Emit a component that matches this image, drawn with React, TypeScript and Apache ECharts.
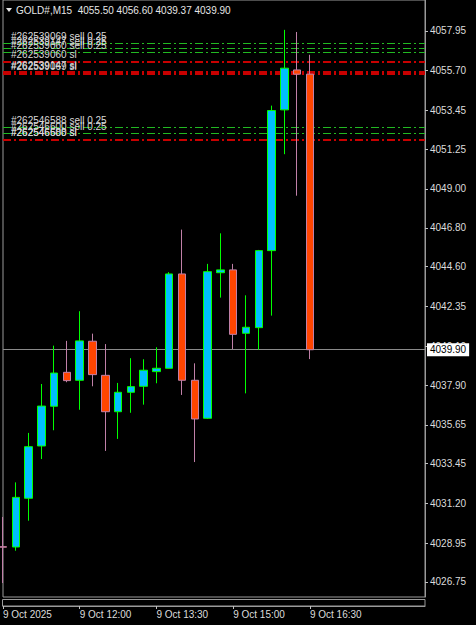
import React, { useEffect, useRef } from "react";
import * as echarts from "echarts";

const symbolName = "GOLD#,M15";
const categories = [
  "10:30", "10:45", "11:00", "11:15", "11:30", "11:45", "12:00", "12:15", "12:30", "12:45",
  "13:00", "13:15", "13:30", "13:45", "14:00", "14:15", "14:30", "14:45", "15:00", "15:15",
  "15:30", "15:45", "16:00", "16:15", "16:30", "16:45", "17:00", "17:15", "17:30", "17:45",
  "18:00", "18:15", "18:30", "18:45",
];
const candleOpen = [
  4028.75, 4028.73, 4031.49, 4034.45, 4036.7, 4038.62, 4038.17, 4040.38, 4038.45, 4036.39,
  4037.49, 4037.83, 4038.66, 4038.85, 4044.19, 4038.17, 4036.02, 4044.26, 4044.42, 4040.83,
  4041.15, 4045.51, 4053.48, 4055.74, 4055.5,
];
const candleClose = [
  4028.72, 4031.54, 4034.41, 4036.71, 4038.58, 4038.15, 4040.4, 4038.49, 4036.39, 4037.49,
  4037.81, 4038.74, 4038.85, 4044.19, 4038.17, 4035.98, 4044.32, 4044.42, 4040.77, 4041.17,
  4045.51, 4053.44, 4055.84, 4055.5, 4039.9,
];
const candleLow = [
  4026.69, 4028.52, 4030.22, 4033.71, 4035.34, 4038.06, 4036.5, 4037.83, 4034.17, 4034.85,
  4036.33, 4036.79, 4038.0, 4038.84, 4037.34, 4033.54, 4035.98, 4042.85, 4039.94, 4037.43,
  4039.89, 4041.83, 4050.97, 4048.62, 4039.37,
];
const candleHigh = [
  4030.43, 4032.39, 4035.19, 4037.96, 4040.13, 4040.4, 4042.08, 4040.81, 4040.22, 4038.02,
  4039.42, 4039.36, 4040.04, 4044.29, 4046.7, 4039.13, 4044.76, 4046.49, 4044.76, 4042.98,
  4045.55, 4053.72, 4058.01, 4057.89, 4056.6,
];
const priceTicks = [
  4026.75, 4028.95, 4031.2, 4033.45, 4035.65, 4037.9, 4040.1, 4042.35, 4044.6, 4046.8,
  4049.0, 4051.25, 4053.45, 4055.7, 4057.95,
];
const timeTickIndex = [0, 6, 12, 18, 24];
const timeTickLabels = ["9 Oct 2025", "9 Oct 12:00", "9 Oct 13:30", "9 Oct 15:00", "9 Oct 16:30"];
const currentPrice = 4039.9;
const orderPrices = [4057.25, 4056.97, 4056.74, 4056.23, 4055.61, 4055.55, 4052.5, 4052.16, 4051.8, 4051.78];
const orderLabels = [
  "#262539069 sell 0.25",
  "#262539147 sell 0.25",
  "#262539060 sell 0.25",
  "#262539060 sl",
  "#262539147 sl",
  "#262539069 sl",
  "#262546588 sell 0.25",
  "#262546600 sell 0.25",
  "#262546600 sl",
  "#262546588 sl",
];
const orderKinds = ["entry", "entry", "entry", "sl", "sl", "sl", "entry", "entry", "sl", "sl"];

const FONT = "'Liberation Sans', Arial, sans-serif";

export default function App() {
  const ref = useRef<HTMLDivElement>(null);

  useEffect(() => {
    if (!ref.current) return;
    const chart = echarts.init(ref.current, undefined, { renderer: "svg" });

    const candleData = categories.map((_, i) =>
      i < candleOpen.length ? [candleOpen[i], candleClose[i], candleLow[i], candleHigh[i]] : "-"
    );
    const last = candleOpen.length - 1;

    const orderLines = orderPrices.map((p, i) => {
      const isSl = orderKinds[i] === "sl";
      return {
        yAxis: p,
        lineStyle: {
          color: isSl ? "#c80000" : "#22b822",
          width: isSl ? 2 : 1,
          type: [8, 3, 2, 3],
        },
        label: {
          show: true,
          position: "insideStartTop",
          distance: [8, 2],
          formatter: orderLabels[i],
          color: "#d8d8d8",
          fontSize: 10,
          fontFamily: FONT,
        },
      };
    });

    const option: any = {
      animation: false,
      backgroundColor: "#000000",
      textStyle: { fontFamily: FONT },
      title: {
        text: `${symbolName}  ${candleOpen[last].toFixed(2)} ${candleHigh[last].toFixed(2)} ${candleLow[last].toFixed(2)} ${candleClose[last].toFixed(2)}`,
        left: 16,
        top: 4,
        padding: 0,
        textStyle: { color: "#e6e6e6", fontSize: 10, fontWeight: "normal", fontFamily: FONT, lineHeight: 12 },
      },
      graphic: [
        {
          type: "polygon",
          shape: { points: [[6, 8], [12, 8], [9, 12]] },
          style: { fill: "#e6e6e6" },
        },
        {
          type: "rect",
          shape: { x: 2.5, y: 599.5, width: 422.5, height: 6.5 },
          style: { fill: "none", stroke: "#9a9a9a", lineWidth: 1 },
        },
      ],
      grid: {
        left: 2,
        right: 51,
        top: 0,
        bottom: 28,
        show: true,
        borderColor: "#9a9a9a",
        borderWidth: 1,
        backgroundColor: "transparent",
      },
      xAxis: {
        type: "category",
        data: categories,
        boundaryGap: false,
        offset: 9,
        axisLine: { show: true, lineStyle: { color: "#9a9a9a" } },
        axisTick: {
          show: true,
          length: 3,
          interval: (i: number) => timeTickIndex.includes(i),
          lineStyle: { color: "#c0c0c0" },
        },
        axisLabel: {
          interval: (i: number) => timeTickIndex.includes(i),
          formatter: (_v: string, i: number) => {
            const k = timeTickIndex.indexOf(i);
            return k >= 0 ? timeTickLabels[k] : "";
          },
          align: "left",
          color: "#dcdcdc",
          fontSize: 10,
          fontFamily: FONT,
          margin: 3,
        },
        splitLine: { show: false },
      },
      yAxis: {
        type: "value",
        position: "right",
        min: 4025.9,
        max: 4059.7,
        scale: true,
        axisLine: { show: true, lineStyle: { color: "#9a9a9a" } },
        axisTick: {
          show: true,
          length: 3,
          customValues: priceTicks,
          lineStyle: { color: "#c0c0c0" },
        },
        axisLabel: {
          customValues: priceTicks,
          formatter: (v: number) => v.toFixed(2),
          color: "#dcdcdc",
          fontSize: 10,
          fontFamily: FONT,
          margin: 5,
        },
        splitLine: { show: false },
      },
      series: [
        {
          type: "candlestick",
          data: candleData,
          barWidth: 8,
          clip: true,
          z: 2,
          itemStyle: {
            color: "#00bfff",
            color0: "#ff4500",
            borderColor: "#00ff00",
            borderColor0: "#c080a8",
            borderWidth: 1,
          },
          markLine: {
            z: 1,
            silent: true,
            symbol: ["none", "none"],
            data: [
              ...orderLines,
              {
                yAxis: currentPrice,
                lineStyle: { color: "#8a8a8a", width: 1, type: "solid" },
                label: {
                  show: true,
                  position: "end",
                  distance: 2,
                  formatter: currentPrice.toFixed(2),
                  color: "#000000",
                  backgroundColor: "#ffffff",
                  padding: [1, 3, 1, 3],
                  fontSize: 10,
                  lineHeight: 11,
                  fontFamily: FONT,
                },
              },
            ],
          },
        },
      ],
    };

    chart.setOption(option);
    return () => chart.dispose();
  }, []);

  return (
    <div
      ref={ref}
      style={{ position: "absolute", left: 0, top: 0, width: 476, height: 625, background: "#000" }}
    />
  );
}
